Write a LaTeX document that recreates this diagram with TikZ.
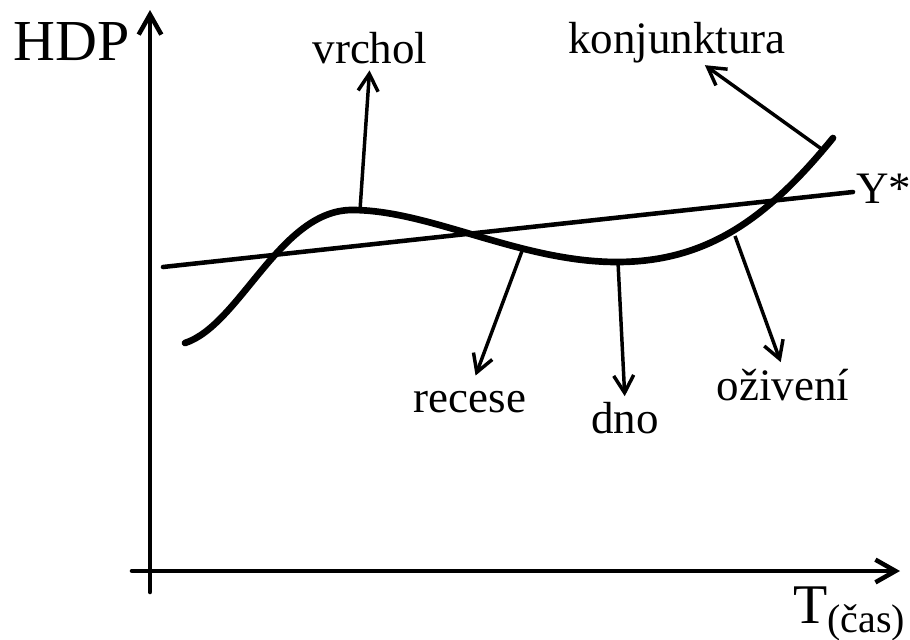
\documentclass[tikz,border=0pt]{standalone}
\usepackage{fontspec}
\setmainfont{Liberation Serif}
\usetikzlibrary{arrows.meta,positioning,calc}

\begin{document}
\begin{tikzpicture}[x=0.75pt, y=-0.75pt,
  >={Straight Barb[length=15pt, width=17pt]},
  axis/.style={line width=3.4pt, line cap=round},
  wave/.style={line width=5pt, line cap=round},
  trend/.style={line width=3.4pt, line cap=round},
  ptr/.style={->, line width=2.6pt, >={Straight Barb[length=13pt, width=15pt]}},
  lab/.style={inner sep=0pt, anchor=base, font=\fontsize{33.75}{40}\selectfont},
  big/.style={inner sep=0pt, anchor=base west, font=\fontsize{43.5}{50}\selectfont}]
  \useasboundingbox (0,0) rectangle (910,639);
  % axes
  \coordinate (ybot) at (150,592);
  \coordinate (ytop) at (150,10);
  \coordinate (xbeg) at (132,571);
  \coordinate (xend) at (900,571);
  \draw[axis, ->] (ybot) -- (ytop);
  \draw[axis, ->] (xbeg) -- (xend);
  \node[big] (hdp) at (13,60) {HDP};
  \node[big, font=\fontsize{42}{50}\selectfont] (cas) at (793,623) {T\raisebox{-6.75pt}{\fontsize{30}{36}\selectfont(čas)}};
  % trend Y*
  \coordinate (ya) at (163,267);
  \coordinate (yb) at (853,192);
  \draw[trend] (ya) -- (yb);
  \node[lab, anchor=base west] (ystar) at (856,203) {Y*};
  % cycle
  \draw[wave] (185,343) .. controls (240,325) and (280,210) .. (352,210)
    .. controls (430,210) and (520,262) .. (617,262)
    .. controls (710,262) and (770,215) .. (833,138);
  \coordinate (pk) at (360,210);
  \coordinate (rc) at (522,251);
  \coordinate (tr) at (618,262);
  \coordinate (oz) at (735,236);
  \coordinate (kj) at (823,150);
  % labels
  \node[lab] (vrchol) at (370,63) {vrchol};
  \node[lab] (konj) at (677,53) {konjunktura};
  \node[lab] (recese) at (470,412) {recese};
  \node[lab] (dno) at (625,433) {dno};
  \node[lab] (oziveni) at (783,400) {oživení};
  \draw[ptr, shorten >=5pt] (pk) -- (vrchol.south);
  \draw[ptr, shorten >=3pt] (kj) -- (konj.-40);
  \draw[ptr, shorten >=12pt] (rc) -- (recese.north);
  \draw[ptr, shorten >=4pt] (tr) -- (dno.north);
  \draw[ptr, shorten >=5pt] (oz) -- (oziveni.north);
\end{tikzpicture}
\end{document}
